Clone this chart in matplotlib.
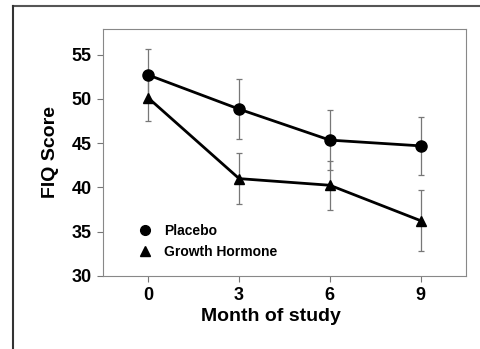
import matplotlib.pyplot as plt
from matplotlib.lines import Line2D

plt.rcParams['font.family'] = ['Liberation Sans', 'DejaVu Sans']

# FIQ score by month
months = [0, 3, 6, 9]
placebo = [52.7, 48.85, 45.35, 44.7]
placebo_err = [2.9, 3.4, 3.35, 3.25]
growth = [50.1, 41.0, 40.25, 36.25]
growth_err = [2.6, 2.9, 2.75, 3.45]
xticks = [0, 3, 6, 9]
yticks = [30, 35, 40, 45, 50, 55]

fig = plt.figure(figsize=(4.81, 3.49), dpi=100)
ax = fig.add_axes([103 / 481, 1 - 276 / 349, 363 / 481, 247 / 349])

err_kw = dict(ecolor='#777777', elinewidth=0.9, capsize=2.5, capthick=0.9)
ax.errorbar(months, placebo, yerr=placebo_err, color='black', lw=2,
            marker='o', ms=8, label='Placebo', **err_kw)
ax.errorbar(months, growth, yerr=growth_err, color='black', lw=2,
            marker='^', ms=7.5, label='Growth Hormone', **err_kw)

ax.set_xlim(-1.5, 10.5)
ax.set_ylim(30, 57.9)
ax.set_xticks(xticks)
ax.set_yticks(yticks)
ax.tick_params(direction='out', length=4, width=0.8, color='#777777',
               labelsize=13, pad=4)
for lbl in ax.get_xticklabels() + ax.get_yticklabels():
    lbl.set_fontweight('bold')
for sp in ax.spines.values():
    sp.set_color('#888888')
    sp.set_linewidth(0.8)

ax.set_xlabel('Month of study', fontsize=14, fontweight='bold')
ax.xaxis.set_label_coords(0.463, -0.128)
ax.set_ylabel('FIQ Score', fontsize=14, fontweight='bold', labelpad=9)

handles = [Line2D([], [], ls='none', marker='o', ms=7, color='black'),
           Line2D([], [], ls='none', marker='^', ms=7, color='black')]
ax.legend(handles, ['Placebo', 'Growth Hormone'], loc='lower left',
          bbox_to_anchor=(0.05, 0.02), frameon=False, handletextpad=0.6,
          handlelength=1.6, labelspacing=0.5,
          prop={'weight': 'bold', 'size': 10})

# page border
fig.add_artist(Line2D([13 / 481, 1], [1 - 6 / 349, 1 - 6 / 349],
                      color='#555555', lw=1.5))
fig.add_artist(Line2D([13 / 481, 13 / 481], [0, 1 - 6 / 349],
                      color='#333333', lw=1.5))

fig.savefig('out.png', dpi=100)
